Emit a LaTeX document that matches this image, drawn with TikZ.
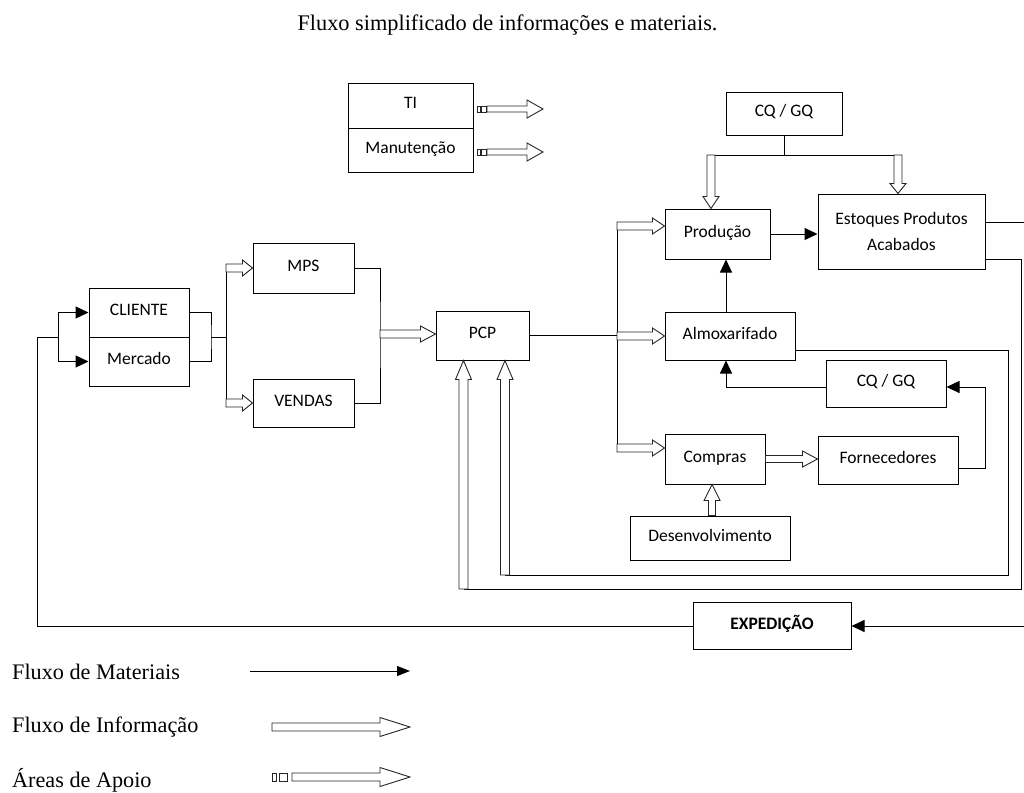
\documentclass[tikz,border=0pt]{standalone}
\usepackage{fontspec}
\setmainfont{Liberation Serif}
\newfontfamily\boxfont{Carlito}
\usetikzlibrary{arrows.meta,calc}

\tikzset{
  box/.style={draw=black, line width=1pt, fill=white, inner sep=0pt, align=center,
    font=\boxfont\fontsize{17.5}{26}\selectfont},
  oneline/.style={text height=15pt, text depth=9pt},
  line/.style={draw=black, line width=1pt},
  mat/.style={line, -{Triangle[length=13pt,width=12pt]}},
  blockline/.style={draw=black!85, fill=white, line width=0.9pt, line join=miter},
  legend/.style={anchor=west, inner sep=0pt, font=\fontsize{22.2}{25}\selectfont},
}

% hollow block arrow: tail, tip, shaft half-width, head half-width, head length
\newcommand\blockarrow[5]{%
  \filldraw[blockline] let \p1=#1, \p2=#2,
      \n1={atan2(\y2-\y1,\x2-\x1)}, \n2={veclen(\x2-\x1,\y2-\y1)} in
    [shift={(\p1)}, rotate=\n1]
    (0,#3) -- ({\n2-#5},#3) -- ({\n2-#5},#4) -- (\n2,0) -- ({\n2-#5},-#4)
    -- ({\n2-#5},-#3) -- (0,-#3) -- cycle;}

\begin{document}
\begin{tikzpicture}[x=1pt,y=-1pt]
\useasboundingbox (0,0) rectangle (1024,792);

% title
\node[font=\fontsize{22.3}{25}\selectfont] (title) at (507.5,25) {Fluxo simplificado de informações e materiais.};

% boxes
\node[box, oneline, minimum width=125pt, minimum height=45pt] (ti) at (410.5,105.5) {TI};
\node[box, oneline, minimum width=125pt, minimum height=44pt] (manut) at (410.5,150) {Manutenção};
\node[box, oneline, minimum width=100pt, minimum height=49pt] (cliente) at (139,312.5) {CLIENTE};
\node[box, oneline, minimum width=100pt, minimum height=49pt] (mercado) at (139,361.5) {Mercado};
\node[box, oneline, minimum width=101pt, minimum height=50pt] (mps) at (303.5,268) {MPS};
\node[box, oneline, minimum width=101pt, minimum height=48pt] (vendas) at (303.5,403) {VENDAS};
\node[box, oneline, minimum width=93pt, minimum height=49pt] (pcp) at (482.5,335.5) {PCP};
\node[box, oneline, minimum width=116pt, minimum height=43pt] (cq1) at (784,113.5) {CQ / GQ};
\node[box, oneline, minimum width=105pt, minimum height=50pt] (prod) at (717.5,234) {Produção};
\node[box, minimum width=167pt, minimum height=75pt] (est) at (901.5,231.5) {Estoques Produtos\\Acabados};
\node[box, oneline, minimum width=130pt, minimum height=48pt] (almox) at (730,336) {Almoxarifado};
\node[box, oneline, minimum width=120pt, minimum height=47pt] (cq2) at (886,383.5) {CQ / GQ};
\node[box, oneline, minimum width=100pt, minimum height=50pt] (compras) at (715,459) {Compras};
\node[box, oneline, minimum width=140pt, minimum height=48pt] (fornec) at (888,460) {Fornecedores};
\node[box, oneline, minimum width=160pt, minimum height=44pt] (desenv) at (710,538) {Desenvolvimento};
\node[box, oneline, minimum width=158pt, minimum height=47pt] (exped) at (772,626) {\bfseries EXPEDIÇÃO};

% routing points
\coordinate (fb) at (37,337);
\coordinate (cmSplit) at (58,337);
\coordinate (cmR) at (211,337);
\coordinate (mvL) at (226,337);
\coordinate (mvR) at (380,334);
\coordinate (pb) at (617,337);
\coordinate (cqa) at (711,155);
\coordinate (cqb) at (898,155);
\coordinate (colA) at (726,0);
\coordinate (colD) at (712,0);
\coordinate (fc) at (985,0);
\coordinate (edgeR) at (1024,0);
\coordinate (oloop) at (1021,589);
\coordinate (oarr) at (463.5,589);
\coordinate (iloop) at (1008,575);
\coordinate (iarr) at (505,575);

% client / market loop
\draw[line] (exped.west) -| (fb) -- (cmSplit);
\draw[mat] (cmSplit) |- (cliente.west);
\draw[mat] (cmSplit) |- (mercado.west);
\draw[line] (cliente.east) -| (cmR) |- (mercado.east);
\draw[line] (cmR) -- (mvL);
\draw[line] ($(mvL |- mps.west)+(0,-4)$) -- ($(mvL |- vendas.west)+(0,4)$);
\blockarrow{(mvL |- mps.west)}{(mps.west)}{4}{8}{10}
\blockarrow{(mvL |- vendas.west)}{(vendas.west)}{4}{8}{10}

% MPS / VENDAS to PCP
\draw[line] (mps.east) -| (mvR) |- (vendas.east);
\blockarrow{(mvR)}{(mvR -| pcp.west)}{4}{8}{15}

% PCP branches
\draw[line] (pcp.east) -- (pcp.east -| pb);
\draw[line] ($(pb |- prod.west)+(0,-12)$) -- ($(pb |- compras.west)+(0,-7)$);
\blockarrow{($(pb |- prod.west)+(0,-8)$)}{($(prod.west)+(0,-8)$)}{4}{8}{12}
\blockarrow{(pb |- almox.west)}{(almox.west)}{4}{8}{12}
\blockarrow{($(pb |- compras.west)+(0,-11)$)}{($(compras.west)+(0,-11)$)}{4}{8}{12}

% quality control on top
\draw[line] (cq1.south) -- (cq1.south |- cqa);
\draw[line] ($(cqa)+(-4,0)$) -- ($(cqb)+(4,0)$);
\blockarrow{(cqa)}{(cqa |- prod.north)}{4}{8}{12}
\blockarrow{(cqb)}{(cqb |- est.north)}{4}{8}{10}

% production and stock
\draw[mat] (prod.east) -- (prod.east -| est.west);
\draw[line] ($(est.east)+(0,-9.5)$) -- ($(est.east -| edgeR)+(0,-9.5)$);
\draw[line] ($(est.east)+(0,27.5)$) -| (oloop) -- (oarr);
\draw[line] ($(almox.east)+(0,14)$) -| (iloop) -- (iarr);
\blockarrow{(oarr)}{(oarr |- pcp.south)}{4.5}{8}{19}
\blockarrow{(iarr)}{(iarr |- pcp.south)}{4.5}{8}{19}

% warehouse, purchasing, suppliers
\draw[mat] (almox.north -| colA) -- (prod.south -| colA);
\draw[mat] ($(cq2.west)+(0,3.5)$) -| (almox.south -| colA);
\draw[mat] ($(fornec.east)+(0,8)$) -| ($(fc |- cq2.east)+(0,3.5)$) -- ($(cq2.east)+(0,3.5)$);
\blockarrow{(compras.east)}{(compras.east -| fornec.west)}{3.5}{8}{15}
\blockarrow{(desenv.north -| colD)}{(compras.south -| colD)}{3.5}{8}{16}

% shipping
\draw[mat] (exped.east -| edgeR) -- (exped.east);

% support areas
\coordinate (tiT) at (487,109);
\coordinate (tiH) at (543,109);
\coordinate (mnT) at (487,152);
\coordinate (mnH) at (543,152);
\draw[blockline] ($(tiT)+(-10,-3)$) rectangle ($(tiT)+(-7,3)$);
\draw[blockline] ($(tiT)+(-6,-3)$) rectangle ($(tiT)+(-1,3)$);
\blockarrow{(tiT)}{(tiH)}{3}{9}{16}
\draw[blockline] ($(mnT)+(-10,-3)$) rectangle ($(mnT)+(-7,3)$);
\draw[blockline] ($(mnT)+(-6,-3)$) rectangle ($(mnT)+(-1,3)$);
\blockarrow{(mnT)}{(mnH)}{3}{9}{16}

% legend
\node[legend] (lgM) at (12,672) {Fluxo de Materiais};
\node[legend] (lgI) at (12,727) {Fluxo de Informação};
\node[legend] (lgA) at (12,780) {Áreas de Apoio};
\coordinate (lmA) at (250,671);
\coordinate (lmB) at (410,671);
\draw[line, -{Triangle[length=13pt,width=10pt]}] (lmA) -- (lmB);
\coordinate (liA) at (272,727);
\coordinate (liB) at (410,727);
\blockarrow{(liA)}{(liB)}{4}{9.5}{30}
\coordinate (laA) at (292,777);
\coordinate (laB) at (410,777);
\draw[blockline] ($(laA)+(-20,-4)$) rectangle ($(laA)+(-16,4)$);
\draw[blockline] ($(laA)+(-13,-4)$) rectangle ($(laA)+(-5,4)$);
\blockarrow{(laA)}{(laB)}{4}{9.5}{30}
\end{tikzpicture}
\end{document}
